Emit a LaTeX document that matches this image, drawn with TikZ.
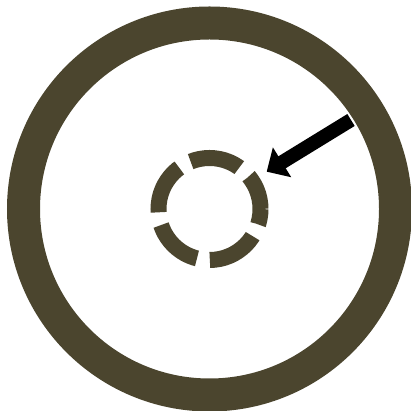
\documentclass[tikz,border=0pt]{standalone}
\usetikzlibrary{arrows.meta}
\definecolor{ringcol}{RGB}{75,69,46}
\begin{document}
\begin{tikzpicture}[x=1pt,y=1pt,
  bigring/.style={draw=ringcol,line width=33pt},
  dashring/.style={draw=ringcol,line width=16pt,dash pattern=on 51.1pt off 13pt,dash phase=15.8pt},
  pointer/.style={draw=black,line width=14pt,-{Triangle[length=18pt,width=34pt]}}]
\useasboundingbox (0,0) rectangle (410,411);
\coordinate (c) at (209.5,202);
\coordinate (tail) at (351,291);
\coordinate (tip) at (266.7,239.3);
\path[bigring] (c) circle (186);
\path[dashring] (c) circle (51);
\path[pointer] (tail) -- (tip);
\end{tikzpicture}
\end{document}
